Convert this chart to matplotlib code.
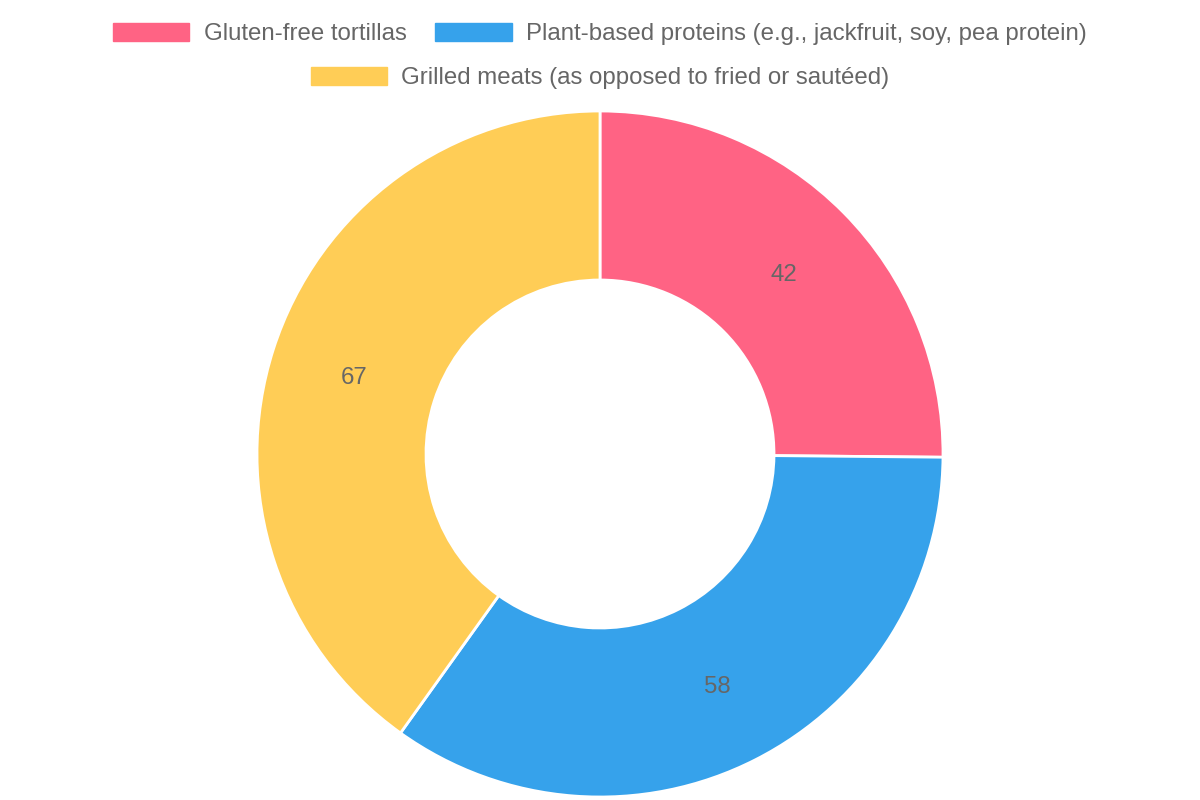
import matplotlib
matplotlib.use('Agg')
from matplotlib import pyplot as plt
from matplotlib.patches import Patch

plt.rcParams['font.family'] = ['Liberation Sans', 'DejaVu Sans']

categories = ['Gluten-free tortillas',
              'Plant-based proteins (e.g., jackfruit, soy, pea protein)',
              'Grilled meats (as opposed to fried or sautéed)']
values = [42, 58, 67]
colors = ['#FF6384', '#36A2EB', '#FFCD56']
textColor = '#666666'

fig = plt.figure(figsize=(12, 8), dpi=100)
ax = fig.add_axes([0, 0, 1, 1])
ax.set_xlim(0, 1200)
ax.set_ylim(0, 800)
ax.set_aspect('equal')
ax.axis('off')

outerRadius = 343
innerRadius = 174
wedges, texts = ax.pie(values, labels=[str(v) for v in values], colors=colors,
                       startangle=90, counterclock=False, center=(600, 346),
                       radius=outerRadius,
                       labeldistance=(outerRadius + innerRadius) / 2 / outerRadius,
                       wedgeprops=dict(width=outerRadius - innerRadius,
                                       edgecolor='white', linewidth=2),
                       textprops=dict(color=textColor, fontsize=17.3,
                                      ha='center', va='center_baseline'))
for t in texts:
    t.set_horizontalalignment('center')
ax.set_xlim(0, 1200)
ax.set_ylim(0, 800)

handles = [Patch(facecolor=c, edgecolor=c) for c in colors]
legendStyle = dict(frameon=False, fontsize=17.3, labelcolor=textColor,
                   handlelength=3.17, handleheight=0.83, handletextpad=0.6,
                   columnspacing=1.2, borderaxespad=0, borderpad=0)
leg1 = fig.legend(handles[:2], categories[:2], ncol=2, loc='center',
                  bbox_to_anchor=(0.5, 1 - 34 / 800), **legendStyle)
leg2 = fig.legend(handles[2:], categories[2:], ncol=1, loc='center',
                  bbox_to_anchor=(0.5, 1 - 78 / 800), **legendStyle)

fig.savefig('out.png', dpi=100)
